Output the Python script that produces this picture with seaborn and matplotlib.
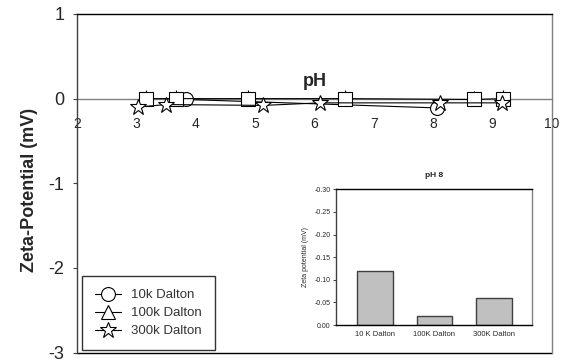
import matplotlib
matplotlib.use("Agg")
import matplotlib.pyplot as plt
from matplotlib.lines import Line2D
import seaborn as sns
import pandas as pd

sns.set_style("white")
plt.rcParams["font.family"] = ["Liberation Sans", "DejaVu Sans"]

# --- data ---
ph_10k = [3.84, 8.07]
zeta_10k = [-0.01, -0.11]
ph_100k = [3.16, 3.66, 4.88, 6.52, 8.68, 9.17]
zeta_100k = [0.0, 0.0, 0.0, 0.0, -0.01, 0.0]
ph_300k = [3.02, 3.50, 5.14, 6.10, 8.12, 9.15]
zeta_300k = [-0.10, -0.07, -0.08, -0.05, -0.05, -0.05]
series_labels = ["10k Dalton", "100k Dalton", "300k Dalton"]

inset_cats = ["10 K Dalton", "100K Dalton", "300K Dalton"]
inset_vals = [-0.12, -0.02, -0.06]
y_ticks = [1, 0, -1, -2, -3]
x_ticks = [2, 3, 4, 5, 6, 7, 8, 9, 10]
inset_yticks = [0.00, -0.05, -0.10, -0.15, -0.20, -0.25, -0.30]

W, H = 569, 363
fig = plt.figure(figsize=(W / 100, H / 100), dpi=100)
ax = fig.add_axes([77 / W, 1 - 352.5 / H, (552 - 77) / W, (352.5 - 14) / H])

ax.set_xlim(2, 10)
ax.set_ylim(-3, 1)

mk = dict(markerfacecolor="white", markeredgecolor="black", markeredgewidth=0.8)
sns.lineplot(x=ph_10k, y=zeta_10k, ax=ax, color="black", lw=0.8, marker="o",
             markersize=10, zorder=3, **mk)
ax.errorbar(ph_100k, zeta_100k, yerr=[[0] * len(ph_100k), [0.1] * len(ph_100k)],
            fmt="none", ecolor="black", elinewidth=0.8, zorder=3.5)
sns.lineplot(x=ph_100k, y=zeta_100k, ax=ax, color="black", lw=0.8, marker="s",
             markersize=9.5, zorder=4, **mk)
sns.lineplot(x=ph_300k, y=zeta_300k, ax=ax, color="black", lw=0.8, marker="*",
             markersize=12, zorder=5, **mk)

ax.set_yticks(y_ticks)
ax.set_yticklabels([str(v) for v in y_ticks], fontsize=13)
ax.tick_params(axis="y", left=True, length=3, width=0.8, color="#404040", pad=6)
ax.set_xticks(x_ticks)
ax.set_xticklabels([str(v) for v in x_ticks], fontsize=13)
ax.tick_params(axis="x", bottom=True, length=0, pad=13)
ax.set_xlabel("")
ax.set_ylabel("")
for side, col in [("top", "black"), ("bottom", "#808080"), ("left", "#404040"), ("right", "#808080")]:
    ax.spines[side].set_visible(True)
    ax.spines[side].set_color(col)
    ax.spines[side].set_linewidth(1)
ax.spines["bottom"].set_position(("data", 0))
ax.spines["bottom"].set_zorder(1)
ax.axhline(-3, color="black", lw=1, clip_on=False, zorder=2)

ax.text(6.0, 0.15, "pH", fontsize=13, fontweight="bold", ha="center", va="baseline")
fig.text(30 / W, 1 - 190 / H, "Zeta-Potential (mV)", rotation=90, fontsize=13,
         fontweight="bold", ha="center", va="center")

handles = [
    Line2D([], [], color="black", lw=0.8, marker="o", markersize=10, **mk),
    Line2D([], [], color="black", lw=0.8, marker="^", markersize=10, **mk),
    Line2D([], [], color="black", lw=0.8, marker="*", markersize=12, **mk),
]
leg = ax.legend(handles, series_labels, loc="lower left",
                bbox_to_anchor=(82 / W, 1 - 350 / H), bbox_transform=fig.transFigure,
                borderaxespad=0, fontsize=9.5, frameon=True, fancybox=False,
                edgecolor="black", handlelength=2.0, handletextpad=0.8,
                labelspacing=0.45, borderpad=0.95)
leg.get_frame().set_linewidth(1)
for t in leg.get_texts():
    t.set_color("#333333")

# --- inset ---
iax = fig.add_axes([336 / W, 1 - 325 / H, (531.7 - 336) / W, (325 - 189.3) / H])
df = pd.DataFrame({"cat": inset_cats, "val": inset_vals})
sns.barplot(data=df, x="cat", y="val", ax=iax, color="#C0C0C0", edgecolor="#404040",
            linewidth=1, width=0.6, saturation=1)
iax.set_xlim(-0.66, 2.64)
iax.set_ylim(0, -0.30)
iax.set_yticks(inset_yticks)
iax.set_yticklabels([f"{v:.2f}" for v in inset_yticks], fontsize=5)
iax.tick_params(axis="y", left=True, length=2, width=0.6, pad=2)
iax.tick_params(axis="x", length=0, pad=4, labelsize=5.5)
iax.set_xlabel("")
iax.set_ylabel("Zeta potential (mV)", fontsize=5, labelpad=4)
iax.set_title("pH 8", fontsize=6, fontweight="bold", pad=9)
for side, col in [("top", "black"), ("bottom", "black"), ("left", "#404040"), ("right", "#808080")]:
    iax.spines[side].set_visible(True)
    iax.spines[side].set_color(col)
    iax.spines[side].set_linewidth(1)

fig.savefig("out.png", dpi=100)
